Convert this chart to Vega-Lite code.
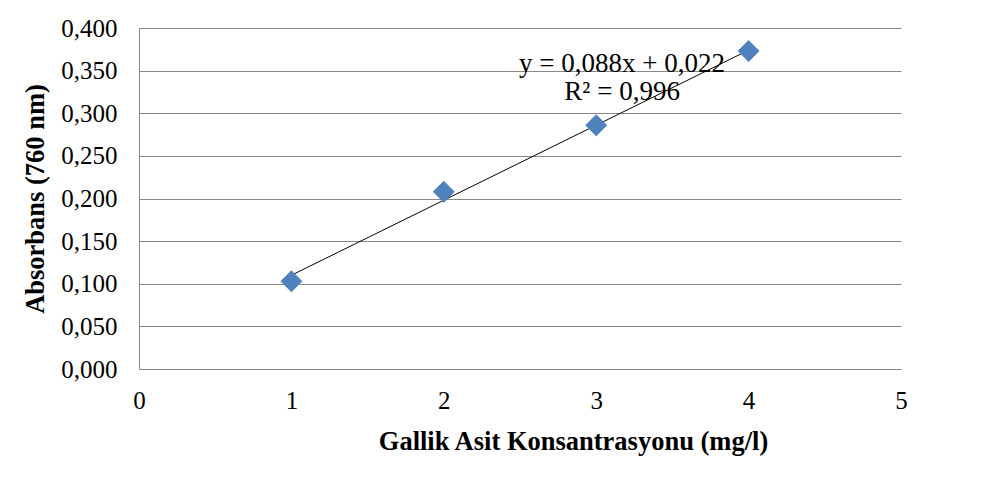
{
  "$schema": "https://vega.github.io/schema/vega-lite/v6.json",
  "width": 762,
  "height": 341,
  "autosize": "none",
  "padding": {"left": 139, "top": 28, "right": 98, "bottom": 128},
  "background": "white",
  "config": {
    "view": {"stroke": null},
    "font": "Liberation Serif",
    "axis": {
      "labelFont": "Liberation Serif",
      "titleFont": "Liberation Serif",
      "labelColor": "#000000",
      "titleColor": "#000000",
      "domainColor": "#888888",
      "gridColor": "#888888",
      "gridWidth": 1,
      "domainWidth": 1,
      "ticks": false,
      "tickSize": 0
    }
  },
  "datasets": {
    "points": [
      {"konsantrasyon": 1, "absorbans": 0.103},
      {"konsantrasyon": 2, "absorbans": 0.208},
      {"konsantrasyon": 3, "absorbans": 0.286},
      {"konsantrasyon": 4, "absorbans": 0.373}
    ],
    "trend": [
      {"konsantrasyon": 1, "absorbans": 0.110},
      {"konsantrasyon": 4, "absorbans": 0.374}
    ],
    "equation": [
      {"konsantrasyon": 3.17, "absorbans": 0.348, "text": "y = 0,088x + 0,022"},
      {"konsantrasyon": 3.17, "absorbans": 0.316, "text": "R² = 0,996"}
    ]
  },
  "layer": [
    {
      "data": {"name": "trend"},
      "mark": {"type": "line", "color": "#000000", "strokeWidth": 1},
      "encoding": {
        "x": {
          "field": "konsantrasyon",
          "type": "quantitative",
          "scale": {"domain": [0, 5], "nice": false, "zero": false},
          "axis": {
            "values": [0, 1, 2, 3, 4, 5],
            "format": "d",
            "grid": false,
            "labelFlush": false,
            "labelFontSize": 25,
            "labelPadding": 19,
            "title": "Gallik Asit Konsantrasyonu (mg/l)",
            "titleFontSize": 26.5,
            "titleFontWeight": "bold",
            "titleX": 434,
            "titleAnchor": "middle",
            "titleAlign": "center",
            "titlePadding": 15
          }
        },
        "y": {
          "field": "absorbans",
          "type": "quantitative",
          "scale": {"domain": [0, 0.4], "nice": false},
          "axis": {
            "values": [0, 0.05, 0.1, 0.15, 0.2, 0.25, 0.3, 0.35, 0.4],
            "labelExpr": "replace(format(datum.value, '.3f'), '.', ',')",
            "labelFlush": false,
            "labelFontSize": 25,
            "labelPadding": 22,
            "title": "Absorbans (760 nm)",
            "titleFontSize": 26.5,
            "titleFontWeight": "bold",
            "titlePadding": 11
          }
        }
      }
    },
    {
      "data": {"name": "points"},
      "mark": {"type": "point", "shape": "diamond", "filled": true, "size": 480, "color": "#4F81BD", "opacity": 1},
      "encoding": {
        "x": {"field": "konsantrasyon", "type": "quantitative"},
        "y": {"field": "absorbans", "type": "quantitative"}
      }
    },
    {
      "data": {"name": "equation"},
      "mark": {"type": "text", "font": "Liberation Serif", "fontSize": 27, "align": "center", "baseline": "alphabetic", "color": "#000000"},
      "encoding": {
        "x": {"field": "konsantrasyon", "type": "quantitative"},
        "y": {"field": "absorbans", "type": "quantitative"},
        "text": {"field": "text"}
      }
    }
  ]
}
